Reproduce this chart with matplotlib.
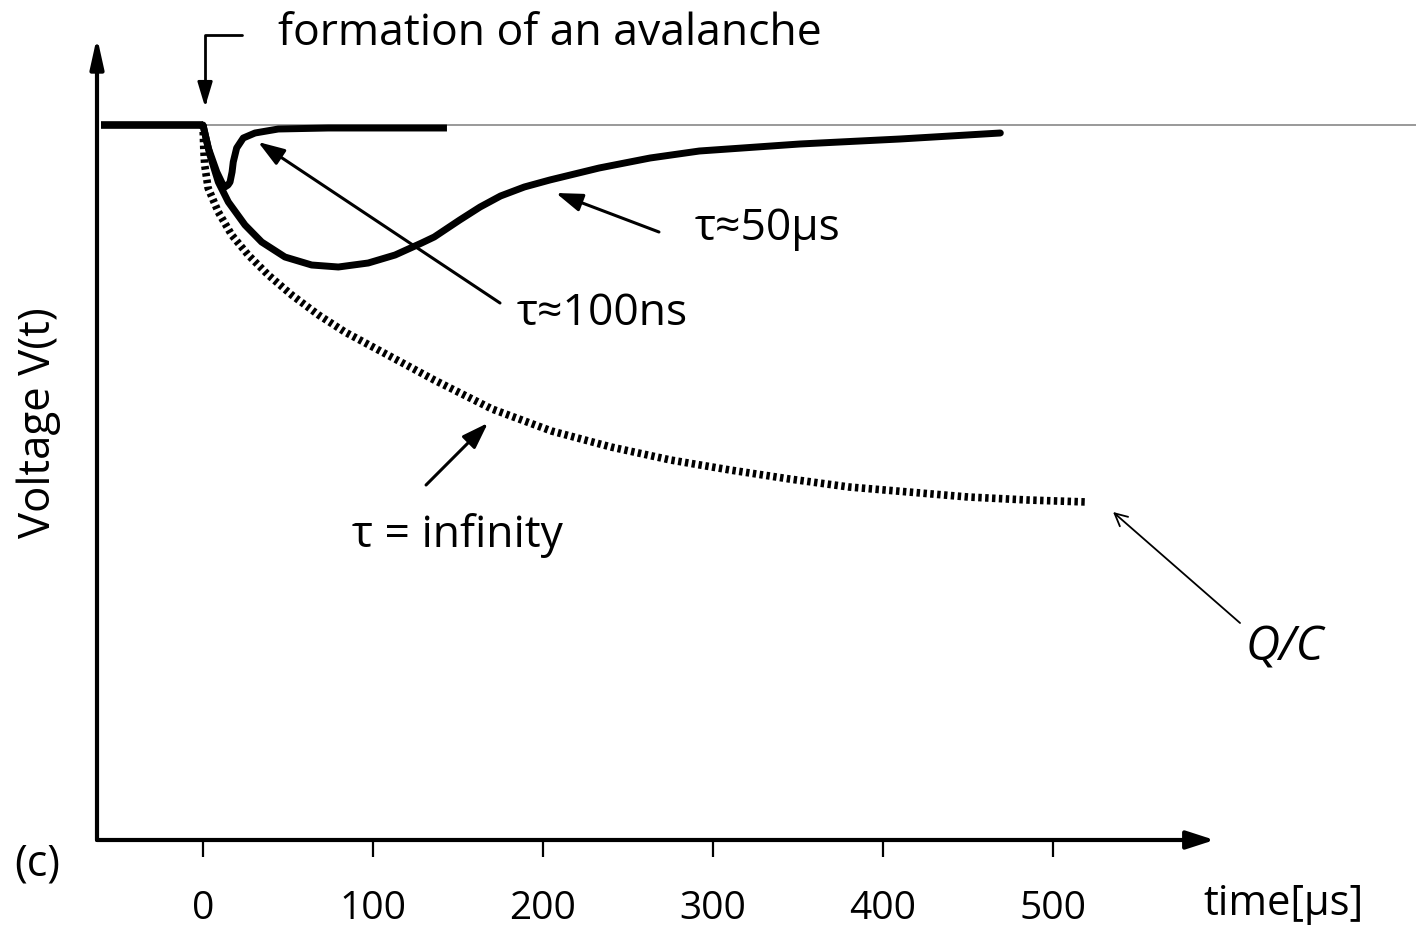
import numpy as np
import matplotlib.pyplot as plt

# Signal shapes: time in microseconds, voltage in arbitrary units
# (baseline = 0, negative = drop after the avalanche)
t_pre = [-60, 0]
v_pre = [0, 0]

# tau ~ 100 ns : quick dip and recovery
t_fast = [0, 3.1, 8.1, 11.2, 12.9, 14.7, 15.9, 17.1, 17.8, 19.8, 23.7, 30.6, 44.3, 73.7, 143.5]
v_fast = [0, -0.23, -0.47, -0.58, -0.62, -0.60, -0.57, -0.47, -0.37, -0.23, -0.13, -0.08,
          -0.04, -0.03, -0.03]

# tau ~ 50 us
t_mid = [0, 4.1, 9.0, 14.9, 24.7, 34.5, 48.2, 63.9, 79.6, 97.2, 113, 128.6, 136, 151,
         163, 175, 189, 204, 233, 263, 292, 351, 410, 469]
v_mid = [0, -0.30, -0.57, -0.77, -1.00, -1.17, -1.32, -1.40, -1.42, -1.38, -1.30, -1.18,
         -1.12, -0.95, -0.82, -0.71, -0.62, -0.55, -0.43, -0.33, -0.26, -0.19, -0.14, -0.08]

# tau = infinity : charge stays on the capacitor, V -> Q/C
t_inf = [0, 0.5, 1, 3, 9, 16.9, 26.6, 38.4, 52.2, 68, 83.5, 101, 136, 170, 205, 240,
         275, 310, 345, 380, 415, 450, 485, 520]
v_inf = [0, -0.25, -0.40, -0.63, -0.87, -1.10, -1.30, -1.50, -1.70, -1.90, -2.07, -2.23,
         -2.55, -2.84, -3.06, -3.22, -3.35, -3.45, -3.54, -3.62, -3.67, -3.72, -3.75, -3.77]

xticks = [0, 100, 200, 300, 400, 500]

fig = plt.figure(figsize=(14.16, 9.32), dpi=100)
ax = fig.add_axes([97 / 1416, 92 / 932, 1319 / 1416, 800 / 932])
ax.set_xlim(-62.35, 713.5)
ax.set_ylim(-7.15, 0.85)
for s in ax.spines.values():
    s.set_visible(False)
ax.set_yticks([])

plt.rcParams['font.family'] = ['Open Sans', 'DejaVu Sans']
font = 'Open Sans'

# axes drawn as arrows
x_end = 595
ax.annotate('', xy=(x_end, -7.15), xytext=(-62.35, -7.15),
            arrowprops=dict(arrowstyle='-|>,head_length=1.7,head_width=0.55',
                            lw=3, color='black', shrinkA=0, shrinkB=0),
            annotation_clip=False)
ax.annotate('', xy=(-62.35, 0.88), xytext=(-62.35, -7.15),
            arrowprops=dict(arrowstyle='-|>,head_length=1.8,head_width=0.4',
                            lw=3, color='black', shrinkA=0, shrinkB=0),
            annotation_clip=False)

ax.set_xticks(xticks)
ax.set_xticklabels([str(v) for v in xticks], fontsize=28, family=font)
ax.tick_params(axis='x', direction='out', length=12, width=1.6, pad=24)

# thin baseline
ax.hlines(0, 0, ax.get_xlim()[1], color='#888888', lw=1.2, clip_on=False)

ax.plot(t_pre, v_pre, color='black', lw=5.5, solid_capstyle='butt')
ax.plot(t_fast, v_fast, color='black', lw=5, solid_capstyle='butt', solid_joinstyle='round')
ax.plot(t_mid, v_mid, color='black', lw=5, solid_capstyle='round', solid_joinstyle='round')
ax.plot(t_inf, v_inf, color='black', lw=5.5, linestyle=(0, (0.45, 0.45)))

# annotations
ax.annotate('', xy=(1.2, 0.18), xytext=(22.9, 0.90),
            arrowprops=dict(arrowstyle='-|>,head_length=1.5,head_width=0.45', lw=2,
                            color='black', shrinkA=0, shrinkB=0,
                            connectionstyle='angle,angleA=180,angleB=90,rad=0'),
            annotation_clip=False)
ax.text(44.1, 0.80, 'formation of an avalanche', fontsize=32, family=font,
        ha='left', va='baseline', clip_on=False)

arrow_kw = dict(arrowstyle='-|>,head_length=1.6,head_width=0.55', lw=2.2,
                color='black', shrinkA=0, shrinkB=0)
ax.annotate('', xy=(32.4, -0.17), xytext=(174.7, -1.78), arrowprops=arrow_kw)
ax.text(184.7, -2.00, 'τ≈100ns', fontsize=32, family=font, ha='left', va='baseline')

ax.annotate('', xy=(207.6, -0.68), xytext=(268.2, -1.07), arrowprops=arrow_kw)
ax.text(289.4, -1.15, 'τ≈50μs', fontsize=32, family=font, ha='left', va='baseline')

ax.annotate('', xy=(167.6, -2.98), xytext=(131.2, -3.60), arrowprops=arrow_kw)
ax.text(87.6, -4.22, 'τ = infinity', fontsize=32, family=font, ha='left', va='baseline')

ax.annotate('', xy=(535.3, -3.87), xytext=(610, -4.98),
            arrowprops=dict(arrowstyle='->,head_length=0.9,head_width=0.45', lw=1.3,
                            color='black', shrinkA=0, shrinkB=0),
            annotation_clip=False)
ax.text(613, -5.35, 'Q/C', fontsize=34, family=font, style='italic',
        ha='left', va='baseline', clip_on=False)

fig.text(39 / 1416, 1 - 423 / 932, 'Voltage V(t)', fontsize=31.5, family=font,
         rotation=90, ha='center', va='center')
fig.text(1283 / 1416, 1 - 904 / 932, 'time[μs]', fontsize=30, family=font,
         ha='center', va='center')
fig.text(37 / 1416, 1 - 864 / 932, '(c)', fontsize=31, family=font,
         ha='center', va='center')

fig.savefig('out.png', dpi=100)
